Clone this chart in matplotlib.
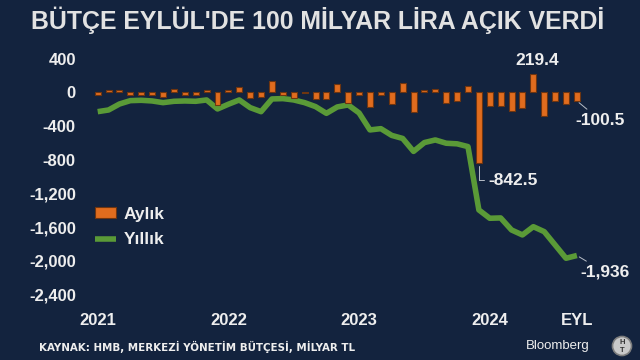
import numpy as np
import matplotlib
matplotlib.use('Agg')
import matplotlib.pyplot as plt
from matplotlib.patches import Ellipse

plt.rcParams['font.family'] = ['Liberation Sans', 'DejaVu Sans']

# Monthly and 12-month rolling budget balance, billion TL (Jan 2021 - Sep 2024)
monthly = [-30, 28, 25, -32, -30, -32, -50, 38, -32, -32, 30, -150,
           30, 62, -70, -58, 140, -32, -62, -12, -80, -80, 98, -125,
           -30, -175, -32, -135, 112, -228, 35, 45, -130, -100, 72, -842.5,
           -160, -163, -218, -182, 219.4, -282, -100, -133, -100.5]
annual = [-228, -208, -137, -97, -93, -101, -121, -105, -101, -105, -89, -196,
          -140, -89, -180, -228, -77, -73, -89, -121, -168, -248, -172, -148,
          -243, -445, -430, -510, -546, -700, -595, -564, -603, -610, -643, -1395,
          -1494, -1490, -1633, -1692, -1594, -1653, -1811, -1969, -1936]
tick_months = [0, 12, 24, 36, 44]
tick_labels = ['2021', '2022', '2023', '2024', 'EYL']
y_ticks = [400, 0, -400, -800, -1200, -1600, -2000, -2400]

bg = '#13233e'
txt = '#eeeeee'
orange = '#e06c1e'
green = '#5a9a37'

fig = plt.figure(figsize=(6.4, 3.6), dpi=100, facecolor=bg)
ax = fig.add_axes([80 / 640, 1 - 305 / 360, 530 / 640, 257 / 360], facecolor=bg)

x = np.arange(len(monthly))
bars = ax.bar(x, monthly, width=0.55, color=orange, edgecolor='#6e3510',
              linewidth=0.8, zorder=3)
line, = ax.plot(x, annual, color=green, lw=4, solid_joinstyle='round',
                solid_capstyle='butt', zorder=2)

ax.set_xlim(-1.625, 47.04)
ax.set_ylim(-2524, 528)
for s in ax.spines.values():
    s.set_visible(False)
ax.set_xticks(tick_months)
ax.set_xticklabels(tick_labels)
ax.set_yticks(y_ticks)
ax.set_yticklabels([f'{v:,}' for v in y_ticks])
ax.tick_params(length=0, colors=txt, labelsize=12)
ax.tick_params(axis='y', pad=3)
ax.tick_params(axis='x', pad=6)
for lab in ax.get_xticklabels() + ax.get_yticklabels():
    lab.set_fontweight('bold')

fs = 12.5
lead = dict(arrowstyle='-', color='#b8bec8', lw=0.7, shrinkA=1, shrinkB=2)
ax.annotate('219.4', xy=(40, monthly[40]), xytext=(3, 4), textcoords='offset points',
            ha='center', va='bottom', color=txt, fontsize=fs, fontweight='bold')
ax.annotate('-100.5', xy=(44, monthly[44]), xytext=(17, -14), textcoords='offset points',
            ha='center', va='center', color=txt, fontsize=fs, fontweight='bold',
            arrowprops=lead)
ax.annotate('-842.5', xy=(35, monthly[35]), xytext=(7, -12), textcoords='offset points',
            ha='left', va='center', color=txt, fontsize=fs, fontweight='bold',
            arrowprops=dict(lead, connectionstyle='angle,angleA=0,angleB=90',
                            relpos=(0, 0.5)))
ax.annotate('-1,936', xy=(44, annual[44]), xytext=(20, -12), textcoords='offset points',
            ha='center', va='center', color=txt, fontsize=fs, fontweight='bold',
            arrowprops=lead)

ax.legend([bars, line], ['Aylık', 'Yıllık'], loc='upper left',
          bbox_to_anchor=(95 / 640, 1 - 207 / 360), bbox_transform=fig.transFigure,
          frameon=False, labelcolor=txt, prop={'weight': 'bold', 'size': fs},
          handlelength=1.2, handleheight=0.6, handletextpad=0.45, labelspacing=0.6,
          borderpad=0, borderaxespad=0)

fig.text(0.497, 1 - 20 / 360, "BÜTÇE EYLÜL'DE 100 MİLYAR LİRA AÇIK VERDİ",
         ha='center', va='center', color='#e2e2e2', fontsize=17.9, fontweight='bold')
fig.text(39 / 640, 1 - 347 / 360, 'KAYNAK: HMB, MERKEZİ YÖNETİM BÜTÇESİ, MİLYAR TL',
         ha='left', va='center', color=txt, fontsize=7.4, fontweight='bold',
         family='DejaVu Sans')
fig.text(558 / 640, 1 - 346 / 360, 'Bloomberg', ha='center', va='center',
         color=txt, fontsize=9.5)

# HT logo
fig.patches.append(Ellipse((622 / 640, 1 - 346 / 360), 19 / 640, 19 / 360,
                           transform=fig.transFigure, facecolor='#c9c9c9',
                           edgecolor='#7d7d7d', lw=1.2))
fig.text(622 / 640, 1 - 342 / 360, 'H', ha='center', va='center', color='#333333',
         fontsize=5.5, fontweight='bold')
fig.text(622 / 640, 1 - 350 / 360, 'T', ha='center', va='center', color='#333333',
         fontsize=5.5, fontweight='bold')

fig.savefig('out.png', dpi=100, facecolor=bg)
